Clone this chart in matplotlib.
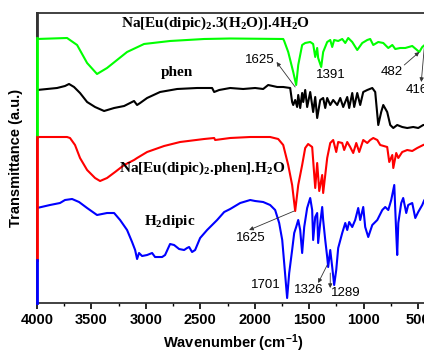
import numpy as np
import matplotlib
matplotlib.use('Agg')
import matplotlib.pyplot as plt

plt.rcParams['font.family'] = 'Liberation Sans'
plt.rcParams['mathtext.default'] = 'regular'

# Na[Eu(dipic)2.3(H2O)].4H2O  (green)
wn_g = [4000, 3724, 3632, 3540, 3449, 3357, 3265, 3173, 3017, 2778, 2465, 2226, 1739, 1730,
        1693, 1647, 1620, 1601, 1565, 1537, 1491, 1464, 1445, 1427, 1418, 1390, 1372, 1335,
        1307, 1289, 1271, 1234, 1197, 1169, 1142, 1105, 1059, 1013, 967, 940, 912, 866, 820,
        774, 737, 710, 664, 618, 554, 489, 462, 440, 416, 400]
t_g = [264, 265, 258, 240, 229, 235, 243, 251, 259, 262, 264, 264.5, 264, 262,
       251, 231, 218, 238, 258, 260, 261, 259, 246, 255, 245, 236, 251, 261,
       263, 256, 263, 262, 264, 260, 265, 261, 253, 260, 263, 264, 258, 261, 260,
       255, 258, 254, 255, 255, 257, 251, 256, 258, 254, 260]

# phen (black)
wn_k = [4000, 3908, 3816, 3743, 3706, 3660, 3605, 3540, 3467, 3384, 3292, 3200, 3109, 3081,
        3053, 2989, 2870, 2713, 2530, 2392, 2373, 2327, 2226, 2107, 1997, 1923, 1877, 1794,
        1739, 1675, 1657, 1647, 1629, 1611, 1601, 1583, 1565, 1555, 1537, 1519, 1491, 1464,
        1445, 1427, 1399, 1372, 1353, 1335, 1307, 1280, 1243, 1215, 1188, 1151, 1133, 1105,
        1087, 1059, 1032, 1004, 967, 921, 894, 866, 839, 820, 784, 756, 728, 692, 646, 600,
        545, 499, 453, 400]
t_k = [213, 214, 215, 217, 219, 216, 210, 201, 196, 192, 195, 197, 202, 198,
       200, 205, 211, 214, 215, 215, 211, 213, 215, 214, 215, 214, 218, 216,
       216, 215, 201, 198, 203, 196, 208, 195, 210, 201, 213, 196, 211, 191,
       206, 185, 203, 205, 195, 205, 198, 203, 198, 205, 196, 206, 195, 210,
       196, 210, 198, 211, 213, 215, 211, 178, 191, 198, 191, 178, 175, 178, 176, 175,
       176, 175, 178, 178]

# Na[Eu(dipic)2.phen].H2O (red)
wn_r = [4000, 3724, 3697, 3651, 3605, 3540, 3467, 3421, 3357, 3283, 3200, 3109, 3081, 2989,
        2833, 2686, 2465, 2373, 2364, 2226, 2042, 1859, 1785, 1739, 1693, 1657, 1629, 1601,
        1565, 1537, 1510, 1473, 1445, 1427, 1408, 1381, 1372, 1335, 1307, 1280, 1252, 1234,
        1197, 1179, 1151, 1124, 1096, 1068, 1041, 1004, 967, 940, 912, 875, 848, 784, 765,
        737, 728, 701, 682, 646, 600, 554, 508, 453, 400]
t_r = [166, 166, 165, 158, 145, 133, 125, 122, 125, 131, 138, 143, 145, 151,
       157, 161, 164, 165, 163, 165, 166, 166, 164, 158, 138, 118, 92, 118,
       138, 155, 159, 156, 115, 140, 112, 128, 110, 145, 160, 163, 151, 161,
       160, 153, 161, 156, 150, 160, 151, 163, 160, 163, 165, 163, 158, 156, 141,
       148, 135, 150, 145, 151, 153, 152, 155, 158, 160]

# H2dipic (blue)
wn_b = [4000, 3881, 3789, 3743, 3678, 3614, 3540, 3449, 3357, 3292, 3237, 3173, 3127, 3099,
        3081, 3063, 3035, 2989, 2943, 2916, 2851, 2824, 2778, 2741, 2695, 2649, 2622, 2603,
        2576, 2548, 2502, 2438, 2346, 2281, 2226, 2134, 2042, 1997, 1923, 1859, 1813, 1776,
        1748, 1730, 1703, 1684, 1657, 1638, 1620, 1601, 1583, 1565, 1546, 1519, 1491, 1473,
        1464, 1445, 1427, 1418, 1399, 1381, 1372, 1353, 1335, 1326, 1307, 1289, 1271, 1252,
        1234, 1197, 1169, 1151, 1133, 1105, 1078, 1050, 1032, 1004, 986, 958, 921, 875, 829,
        802, 774, 747, 719, 701, 692, 682, 655, 637, 609, 591, 554, 526, 499, 462, 443, 400]
t_b = [95, 98, 100, 103, 104, 101, 95, 88, 90, 90, 83, 73, 61, 53,
       44, 50, 47, 48, 50, 46, 46, 48, 59, 58, 54, 53, 55, 56,
       51, 53, 65, 73, 83, 91, 94, 100, 103, 102, 101, 98, 93, 80,
       63, 40, 5, 30, 53, 70, 76, 83, 73, 50, 76, 95, 105, 93,
       63, 86, 90, 60, 80, 96, 83, 63, 46, 36, 53, 36, 18, 33,
       55, 70, 80, 73, 81, 76, 83, 95, 83, 96, 76, 66, 78, 83, 93,
       96, 93, 103, 118, 70, 48, 80, 100, 105, 90, 98, 100, 85, 91, 98, 103, 105]

# colour segments along the left edge (4000 cm-1)
edge_t = [290, 265, 166, 43, 0]
edge_c = ['#333333', '#00ff00', '#ff0000', '#0000ff']

fig = plt.figure(figsize=(4.24, 3.53), dpi=100)
ax = fig.add_axes([0.0873, 0.1416, 0.9245, 0.8216])

ax.plot(wn_g, t_g, color='#00ff00', lw=1.5)
ax.plot(wn_k, t_k, color='black', lw=1.5)
ax.plot(wn_r, t_r, color='#ff0000', lw=1.5)
ax.plot(wn_b, t_b, color='#0000ff', lw=1.5)

for i in range(len(edge_c)):
    ax.plot([4000, 4000], [edge_t[i], edge_t[i + 1]], color=edge_c[i], lw=2, clip_on=False, zorder=5)

ax.set_xlim(4000, 400)
ax.set_ylim(0, 290)
ax.set_xticks([4000, 3500, 3000, 2500, 2000, 1500, 1000, 500])
ax.set_xticks(np.arange(3750, 400, -500), minor=True)
ax.set_yticks([])
ax.spines['right'].set_visible(False)
for s in ['top', 'bottom', 'left']:
    ax.spines[s].set_linewidth(1.3)
    ax.spines[s].set_color('#333333')
ax.tick_params(axis='x', which='major', direction='out', length=4, width=1.2, pad=3)
ax.tick_params(axis='x', which='minor', direction='out', length=2.5, width=1)
for lab in ax.get_xticklabels():
    lab.set_fontweight('bold')
    lab.set_fontsize(10.5)

ax.set_xlabel('Wavenumber (cm$^{-1}$)', fontsize=10.5, fontweight='bold', labelpad=4)
ax.set_ylabel('Transmittance (a.u.)', fontsize=10.5, fontweight='bold', labelpad=10)

serif = dict(family='Liberation Serif', fontweight='bold', fontsize=11)
ax.text(2364, 276, 'Na[Eu(dipic)$_2$.3(H$_2$O)].4H$_2$O', ha='center', va='baseline', **serif)
ax.text(2713, 227, 'phen', ha='center', va='baseline', **serif)
ax.text(3246, 131, 'Na[Eu(dipic)$_2$.phen].H$_2$O', ha='left', va='baseline', **serif)
ax.text(3017, 78, 'H$_2$dipic', ha='left', va='baseline', **serif)

# peak labels
peak_txt = ['1625', '1391', '482', '416', '1625', '1701', '1326', '1289']
peak_x = [1951, 1303, 738, 618, 2033, 1895, 1500, 1160]
peak_y = [243, 228, 231, 213, 65, 18, 13, 10]
peak_ha = ['center', 'center', 'center', 'left', 'center', 'center', 'center', 'center']
for s, x, y, h in zip(peak_txt, peak_x, peak_y, peak_ha):
    ax.text(x, y, s, ha=h, va='center', fontsize=9.5, clip_on=False)

# arrows: (tail, head)
arrows = [((1629, 216), (1800, 241)),
          ((627, 238), (489, 251)),
          ((443, 256), (471, 221)),
          ((1638, 92), (2052, 73)),
          ((1335, 38), (1418, 20)),
          ((1307, 30), (1307, 15))]
for tail, head in arrows:
    ax.annotate('', xy=head, xytext=tail,
                arrowprops=dict(arrowstyle='-|>', color='#333333', lw=0.6,
                                mutation_scale=6, shrinkA=0, shrinkB=0))

fig.savefig('out.png', dpi=100)
